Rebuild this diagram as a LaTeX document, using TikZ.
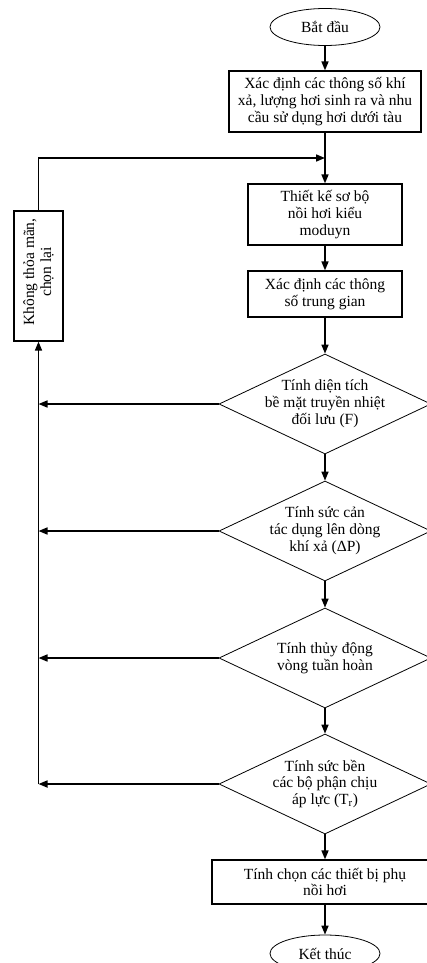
\documentclass[tikz,border=0pt]{standalone}
\usepackage{fontspec}
\setmainfont{Liberation Serif}
\usetikzlibrary{shapes.geometric,arrows.meta}

\begin{document}
\begin{tikzpicture}[x=1pt,y=-1pt,
  every node/.style={font=\fontsize{15.5}{16.8}\selectfont, align=center},
  buoc/.style={draw, line width=1.2pt, inner sep=0pt},
  hoi/.style={draw, diamond, line width=0.8pt, aspect=2.12, inner sep=-5pt,
    minimum width=212pt, minimum height=100pt},
  dau/.style={draw, ellipse, line width=0.8pt, inner sep=0pt,
    minimum width=110pt, minimum height=37pt},
  muiten/.style={line width=1.6pt, -{Triangle[length=9pt,width=7pt]}}]
\useasboundingbox (0,0) rectangle (427,963);

\node[dau] (batdau) at (325,27) {Bắt đầu};
\node[buoc, minimum width=192pt, minimum height=61pt] (b1) at (325,101.5)
  {Xác định các thông số khí\\ xả, lượng hơi sinh ra và nhu\\ cầu sử dụng hơi dưới tàu};
\coordinate (noi) at (325,158);
\node[buoc, minimum width=154pt, minimum height=61pt] (b2) at (325,214.5)
  {Thiết kế sơ bộ\\ nồi hơi kiểu\\ moduyn};
\node[buoc, minimum width=154pt, minimum height=46pt] (b3) at (325,294)
  {Xác định các thông\\ số trung gian};
\node[hoi] (d1) at (325,404) {Tính diện tích\\ bề mặt truyền nhiệt\\ đối lưu (F)};
\node[hoi] (d2) at (325,531) {Tính sức cản\\ tác dụng lên dòng\\ khí xả (ΔP)};
\node[hoi] (d3) at (325,658) {Tính thủy động\\ vòng tuần hoàn};
\node[hoi] (d4) at (325,784) {Tính sức bền\\ các bộ phận chịu\\ áp lực (T\textsubscript{r})};
\node[buoc, minimum width=226pt, minimum height=44pt] (b4) at (325,882)
  {Tính chọn các thiết bị phụ\\ nồi hơi};
\node[dau] (ketthuc) at (325,953.5) {Kết thúc};
% rotated: west is the bottom side, east the top side
\node[buoc, rotate=90, minimum width=130pt, minimum height=49pt] (lai) at (38.5,276)
  {\hspace*{8pt}Không thỏa mãn,\\ \hspace*{8pt}chọn lại};

\draw[muiten] (batdau) -- (b1);
\draw[muiten] (b1) -- (b2);
\draw[muiten] (b2) -- (b3);
\draw[muiten] (b3) -- (d1);
\draw[muiten] (d1) -- (d2);
\draw[muiten] (d2) -- (d3);
\draw[muiten] (d3) -- (d4);
\draw[muiten] (d4) -- (b4);
\draw[muiten] (b4) -- (ketthuc);

\foreach \d in {d1,d2,d3,d4}
{
\draw[muiten] (\d.west) -- (\d.west -| lai.west);
}
\draw[muiten] (d4.west -| lai.west) -- (lai.west);
\draw[muiten] (lai.east) |- (noi);
\end{tikzpicture}
\end{document}
